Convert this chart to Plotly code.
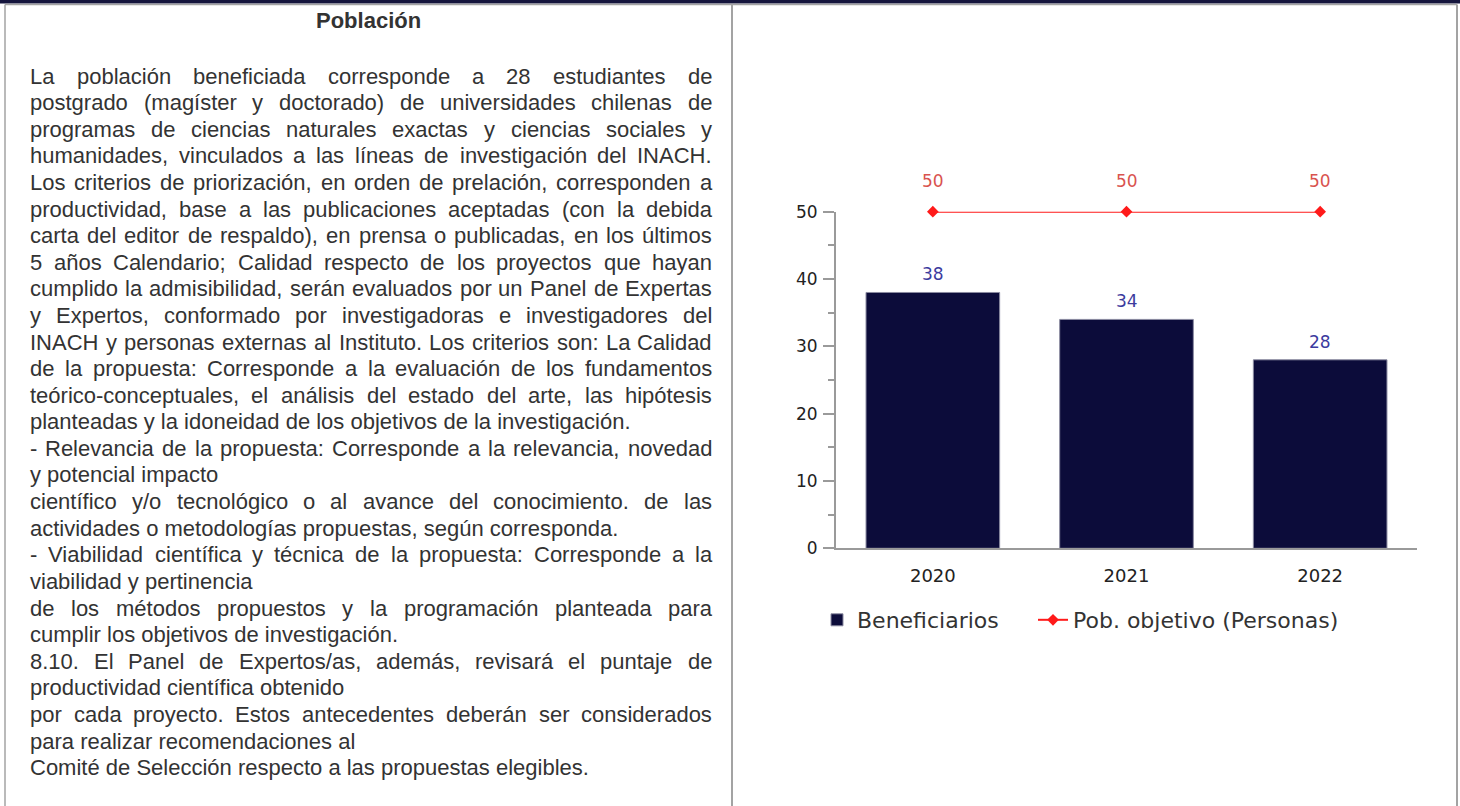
import plotly.graph_objects as go

# ---------------- data ----------------
years = ["2020", "2021", "2022"]
beneficiarios = [38, 34, 28]
pob_objetivo = [50, 50, 50]
y_tick_vals = [0, 10, 20, 30, 40, 50]
series_names = ["Beneficiarios", "Pob. objetivo (Personas)"]

title_text = "Población"
body_lines = [
    "La población beneficiada corresponde a 28 estudiantes de",
    "postgrado (magíster y doctorado) de universidades chilenas de",
    "programas de ciencias naturales exactas y ciencias sociales y",
    "humanidades, vinculados a las líneas de investigación del INACH.",
    "Los criterios de priorización, en orden de prelación, corresponden a",
    "productividad, base a las publicaciones aceptadas (con la debida",
    "carta del editor de respaldo), en prensa o publicadas, en los últimos",
    "5 años Calendario; Calidad respecto de los proyectos que hayan",
    "cumplido la admisibilidad, serán evaluados por un Panel de Expertas",
    "y Expertos, conformado por investigadoras e investigadores del",
    "INACH y personas externas al Instituto. Los criterios son: La Calidad",
    "de la propuesta: Corresponde a la evaluación de los fundamentos",
    "teórico-conceptuales, el análisis del estado del arte, las hipótesis",
    "planteadas y la idoneidad de los objetivos de la investigación.",
    "- Relevancia de la propuesta: Corresponde a la relevancia, novedad",
    "y potencial impacto",
    "científico y/o tecnológico o al avance del conocimiento. de las",
    "actividades o metodologías propuestas, según corresponda.",
    "- Viabilidad científica y técnica de la propuesta: Corresponde a la",
    "viabilidad y pertinencia",
    "de los métodos propuestos y la programación planteada para",
    "cumplir los objetivos de investigación.",
    "8.10. El Panel de Expertos/as, además, revisará el puntaje de",
    "productividad científica obtenido",
    "por cada proyecto. Estos antecedentes deberán ser considerados",
    "para realizar recomendaciones al",
    "Comité de Selección respecto a las propuestas elegibles.",
]
justified = [True] * 13 + [False, True, False, True, False, True, False,
                           True, False, True, False, True, False, False]

# ---------------- page geometry (pixels) ----------------
W, H = 1460, 806
TXT_FONT = "Liberation Sans, Arial, Helvetica, sans-serif"
CH_FONT = "DejaVu Sans, Verdana, sans-serif"
FS = 22
TEXT_X0, TEXT_X1 = 30, 712
LINE0_Y, LINE_H = 76, 26.6
TITLE_Y = 20

AW = {
    " ": 278, "!": 278, "(": 333, ")": 333, ",": 278, "-": 333, ".": 278, "/": 278,
    ":": 278, ";": 278,
    "A": 667, "B": 667, "C": 722, "D": 722, "E": 667, "F": 611, "G": 778, "H": 722,
    "I": 278, "J": 500, "K": 667, "L": 556, "M": 833, "N": 722, "O": 778, "P": 667,
    "Q": 778, "R": 722, "S": 667, "T": 611, "U": 722, "V": 667, "W": 944, "X": 667,
    "Y": 667, "Z": 611,
    "a": 556, "b": 556, "c": 500, "d": 556, "e": 556, "f": 278, "g": 556, "h": 556,
    "i": 222, "j": 222, "k": 500, "l": 222, "m": 833, "n": 556, "o": 556, "p": 556,
    "q": 556, "r": 333, "s": 500, "t": 278, "u": 556, "v": 500, "w": 722, "x": 500,
    "y": 500, "z": 500,
    "á": 556, "é": 556, "í": 278, "ó": 556, "ú": 556, "ñ": 556,
}


def text_w(s, size):
    return sum(AW.get(ch, 556) for ch in s) / 1000.0 * size


def px(x):
    return x / W


def py(y):
    return 1 - y / H


fig = go.Figure()

fig.add_trace(go.Bar(
    x=years, y=beneficiarios, name=series_names[0], width=0.69,
    marker=dict(color="#0c0c3a", line=dict(color="#8a8aa0", width=1)),
    hoverinfo="skip", legend="legend",
))
fig.add_trace(go.Scatter(
    x=years, y=pob_objetivo, name=series_names[1], mode="lines+markers",
    line=dict(color="#ff1a1a", width=2),
    marker=dict(symbol="diamond", size=9, color="#ff1a1a"),
    cliponaxis=False, hoverinfo="skip", legend="legend2",
))

annotations = []
# value labels (x given as category index on the category axis)
for i, yv in enumerate(beneficiarios):
    annotations.append(dict(x=i, y=yv, xref="x", yref="y", text=str(yv),
                            showarrow=False, yanchor="middle", yshift=18,
                            font=dict(family=CH_FONT, size=17, color="#3b3b9e")))
for i, yv in enumerate(pob_objetivo):
    annotations.append(dict(x=i, y=yv, xref="x", yref="y", text=str(yv),
                            showarrow=False, yanchor="middle", yshift=31,
                            font=dict(family=CH_FONT, size=17, color="#d9534f")))

# title
annotations.append(dict(x=px((5 + 732) / 2), y=py(TITLE_Y), xref="paper", yref="paper",
                        text="<b>" + title_text + "</b>", showarrow=False,
                        xanchor="center", yanchor="middle", borderpad=0, borderwidth=0,
                        font=dict(family=TXT_FONT, size=FS, color="#333333")))

# body text (justified like the source)
avail = TEXT_X1 - TEXT_X0
for i, line in enumerate(body_lines):
    ly = LINE0_Y + i * LINE_H
    words = line.split(" ")
    if justified[i] and len(words) > 1:
        ww = [text_w(w, FS) for w in words]
        gap = (avail - sum(ww)) / (len(words) - 1)
        x = TEXT_X0
        for w, wpx in zip(words, ww):
            annotations.append(dict(x=px(x), y=py(ly), xref="paper", yref="paper",
                                    text=w, showarrow=False, xanchor="left",
                                    yanchor="middle", borderpad=0, borderwidth=0,
                                    font=dict(family=TXT_FONT, size=FS, color="#333333")))
            x += wpx + gap
    else:
        annotations.append(dict(x=px(TEXT_X0), y=py(ly), xref="paper", yref="paper",
                                text=line, showarrow=False, xanchor="left",
                                yanchor="middle", borderpad=0, borderwidth=0,
                                font=dict(family=TXT_FONT, size=FS, color="#333333")))

# table borders
BORDER = "#a3a3a3"
shapes = [
    dict(type="rect", xref="paper", yref="paper", x0=0, x1=1, y0=py(3.5), y1=1,
         line=dict(width=0), fillcolor="#15153d", layer="above"),
    dict(type="line", xref="paper", yref="paper", x0=px(5), x1=px(1457),
         y0=py(4.5), y1=py(4.5), line=dict(color=BORDER, width=1.5)),
    dict(type="line", xref="paper", yref="paper", x0=px(5), x1=px(5),
         y0=py(4.5), y1=0, line=dict(color=BORDER, width=1.5)),
    dict(type="line", xref="paper", yref="paper", x0=px(732), x1=px(732),
         y0=py(4.5), y1=0, line=dict(color=BORDER, width=2)),
    dict(type="line", xref="paper", yref="paper", x0=px(1457), x1=px(1457),
         y0=py(4.5), y1=0, line=dict(color=BORDER, width=2)),
]

AX_COLOR = "#9a9a9a"
LEG_FONT = dict(family=CH_FONT, size=22, color="#333333")
fig.update_layout(
    width=W, height=H,
    margin=dict(l=0, r=0, t=0, b=0, autoexpand=False),
    paper_bgcolor="white", plot_bgcolor="white",
    showlegend=True,
    legend=dict(orientation="h", x=px(817), y=py(620), xanchor="left", yanchor="middle",
                font=LEG_FONT, bgcolor="rgba(0,0,0,0)", borderwidth=0),
    legend2=dict(orientation="h", x=px(1033), y=py(620), xanchor="left", yanchor="middle",
                 font=LEG_FONT, bgcolor="rgba(0,0,0,0)", borderwidth=0),
    xaxis=dict(domain=[px(836), px(1417)], range=[-0.5, 2.5], type="category",
               showline=True, linecolor=AX_COLOR, linewidth=2, ticks="",
               showgrid=False, zeroline=False, ticklabelstandoff=10,
               tickfont=dict(family=CH_FONT, size=18, color="#222222")),
    yaxis=dict(domain=[py(548.3), py(211.7)], range=[0, 50],
               tickvals=y_tick_vals, showline=True, linecolor=AX_COLOR, linewidth=2,
               ticks="outside", ticklen=11, tickwidth=2, tickcolor=AX_COLOR,
               minor=dict(dtick=5, ticks="outside", ticklen=6, tickwidth=1.5,
                          tickcolor=AX_COLOR, showgrid=False),
               showgrid=False, zeroline=False, ticklabelstandoff=2,
               tickfont=dict(family=CH_FONT, size=17, color="#222222")),
    annotations=annotations,
    shapes=shapes,
)

fig.write_html("out.html", config={"displayModeBar": False},
               post_script="document.body.style.margin='0px';")
